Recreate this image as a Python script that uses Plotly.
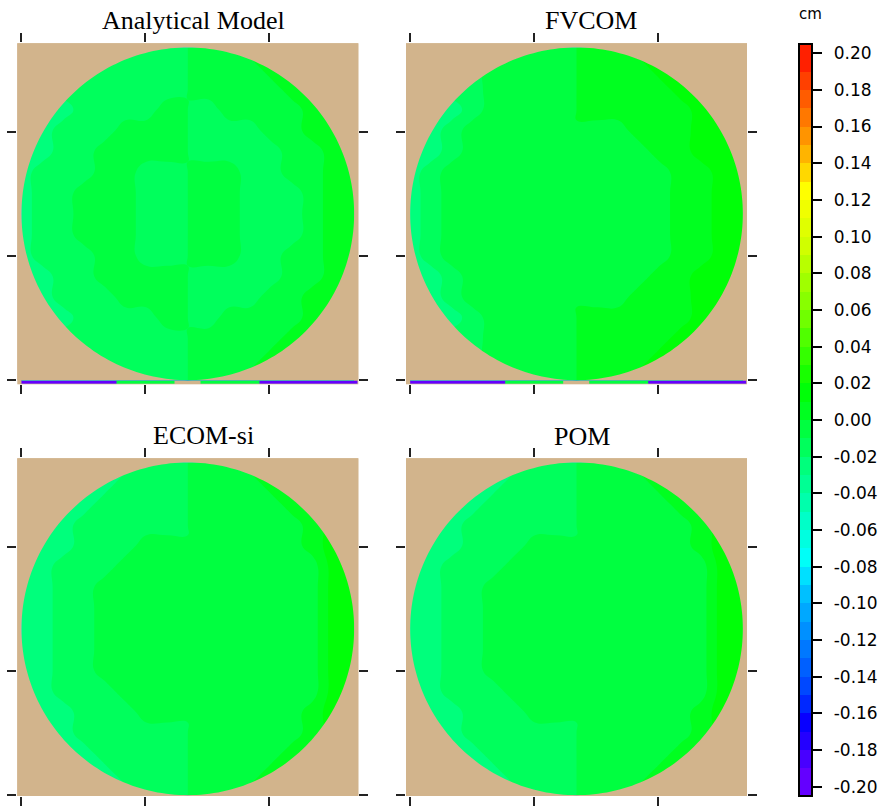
import numpy as np
import plotly.graph_objects as go

W, H = 885, 810

panel_titles = ["Analytical Model", "FVCOM", "ECOM-si", "POM"]

# grid nodes (basin radius = 1). The two columns at -0/+0 carry the branch-cut seen at x = 0
grid_x = [-1.0, -0.875, -0.75, -0.625, -0.5, -0.375, -0.25, -0.125, -0.0005,
          0.0005, 0.125, 0.25, 0.375, 0.5, 0.625, 0.75, 0.875, 1.0]
grid_y_top_down = [1.0, 0.875, 0.75, 0.625, 0.5, 0.375, 0.25, 0.125, 0.0,
                   -0.125, -0.25, -0.375, -0.5, -0.625, -0.75, -0.875, -1.0]

# surface elevation, units of 0.001 cm, rows from top (y=+1) to bottom (y=-1)
analytical_elev = [
    [-15, -15, -15, -15, -15, -15, -15, -15, -15, -5, -5, -5, 5, 5, 5, 5, 5, 5],
    [-15, -15, -15, -15, -15, -15, -15, -15, -15, -5, -5, -5, -5, 5, 5, 5, 5, 5],
    [-15, -15, -15, -15, -15, -15, -15, -15, -15, -5, -5, -5, -5, -5, 5, 5, 5, 5],
    [-25, -25, -25, -15, -15, -15, -15, -5, -5, -15, -15, -5, -5, -5, -5, 5, 5, 5],
    [-25, -25, -15, -15, -15, -5, -5, -5, -5, -15, -15, -15, -15, -5, -5, 5, 5, 5],
    [-25, -25, -15, -15, -5, -5, -5, -5, -5, -15, -15, -15, -15, -15, -5, -5, 5, 5],
    [-25, -15, -15, -15, -5, -5, -15, -15, -15, -5, -5, -5, -15, -15, -5, -5, 5, 5],
    [-25, -15, -15, -5, -5, -5, -15, -15, -15, -5, -5, -5, -15, -15, -15, -5, 5, 5],
    [-25, -15, -15, -5, -5, -5, -15, -15, -15, -5, -5, -5, -15, -15, -15, -5, 5, 5],
    [-25, -15, -15, -5, -5, -5, -15, -15, -15, -5, -5, -5, -15, -15, -15, -5, 5, 5],
    [-25, -15, -15, -15, -5, -5, -15, -15, -15, -5, -5, -5, -15, -15, -5, -5, 5, 5],
    [-25, -25, -15, -15, -5, -5, -5, -5, -5, -15, -15, -15, -15, -15, -5, -5, 5, 5],
    [-25, -25, -15, -15, -15, -5, -5, -5, -5, -15, -15, -15, -15, -5, -5, 5, 5, 5],
    [-25, -25, -25, -15, -15, -15, -15, -5, -5, -15, -15, -5, -5, -5, -5, 5, 5, 5],
    [-15, -15, -15, -15, -15, -15, -15, -15, -15, -5, -5, -5, -5, -5, 5, 5, 5, 5],
    [-15, -15, -15, -15, -15, -15, -15, -15, -15, -5, -5, -5, -5, 5, 5, 5, 5, 5],
    [-15, -15, -15, -15, -15, -15, -15, -15, -15, -5, -5, -5, 5, 5, 5, 5, 5, 5],
]

fvcom_elev = [
    [-15, -15, -15, -15, -15, -5, -5, -5, -5, 5, 5, 5, 15, 15, 15, 15, 15, 15],
    [-15, -15, -15, -15, -5, -5, -5, -5, -5, 5, 5, 5, 5, 15, 15, 15, 15, 15],
    [-15, -15, -15, -15, -5, -5, -5, -5, -5, 5, 5, 5, 5, 5, 15, 15, 15, 15],
    [-25, -25, -25, -15, -5, -5, -5, -5, -5, 5, 5, 5, 5, 5, 5, 15, 15, 15],
    [-25, -25, -15, -5, -5, -5, -5, -5, -5, -5, -5, -5, 5, 5, 5, 15, 15, 15],
    [-25, -25, -15, -5, -5, -5, -5, -5, -5, -5, -5, -5, -5, 5, 5, 15, 15, 15],
    [-25, -15, -5, -5, -5, -5, -5, -5, -5, -5, -5, -5, -5, -5, 5, 5, 15, 15],
    [-25, -15, -5, -5, -5, -5, -5, -5, -5, -5, -5, -5, -5, -5, 5, 5, 15, 15],
    [-25, -15, -5, -5, -5, -5, -5, -5, -5, -5, -5, -5, -5, -5, 5, 5, 15, 15],
    [-25, -15, -5, -5, -5, -5, -5, -5, -5, -5, -5, -5, -5, -5, 5, 5, 15, 15],
    [-25, -15, -5, -5, -5, -5, -5, -5, -5, -5, -5, -5, -5, -5, 5, 5, 15, 15],
    [-25, -25, -15, -5, -5, -5, -5, -5, -5, -5, -5, -5, -5, 5, 5, 15, 15, 15],
    [-25, -25, -15, -5, -5, -5, -5, -5, -5, -5, -5, -5, 5, 5, 5, 15, 15, 15],
    [-25, -25, -25, -15, -5, -5, -5, -5, -5, 5, 5, 5, 5, 5, 5, 15, 15, 15],
    [-15, -15, -15, -15, -5, -5, -5, -5, -5, 5, 5, 5, 5, 5, 15, 15, 15, 15],
    [-15, -15, -15, -15, -5, -5, -5, -5, -5, 5, 5, 5, 5, 15, 15, 15, 15, 15],
    [-15, -15, -15, -15, -15, -5, -5, -5, -5, 5, 5, 5, 15, 15, 15, 15, 15, 15],
]

ecomsi_elev = [
    [-25, -25, -25, -25, -25, -25, -15, -15, -15, -5, -5, -5, 5, 5, 5, 15, 15, 15],
    [-25, -25, -25, -25, -25, -15, -15, -15, -15, -5, -5, -5, -5, 5, 5, 15, 15, 15],
    [-25, -25, -25, -25, -15, -15, -15, -15, -15, -5, -5, -5, -5, -5, 5, 15, 15, 15],
    [-25, -25, -25, -15, -15, -15, -15, -15, -15, -5, -5, -5, -5, -5, -5, 5, 15, 15],
    [-25, -25, -25, -15, -15, -15, -5, -5, -5, -5, -5, -5, -5, -5, -5, 5, 15, 15],
    [-25, -25, -15, -15, -15, -5, -5, -5, -5, -5, -5, -5, -5, -5, -5, -5, 15, 15],
    [-25, -25, -15, -15, -5, -5, -5, -5, -5, -5, -5, -5, -5, -5, -5, -5, 15, 15],
    [-25, -25, -15, -15, -5, -5, -5, -5, -5, -5, -5, -5, -5, -5, -5, -5, 15, 15],
    [-25, -25, -15, -15, -5, -5, -5, -5, -5, -5, -5, -5, -5, -5, -5, -5, 15, 15],
    [-25, -25, -15, -15, -5, -5, -5, -5, -5, -5, -5, -5, -5, -5, -5, -5, 15, 15],
    [-25, -25, -15, -15, -5, -5, -5, -5, -5, -5, -5, -5, -5, -5, -5, -5, 15, 15],
    [-25, -25, -15, -15, -15, -5, -5, -5, -5, -5, -5, -5, -5, -5, -5, -5, 15, 15],
    [-25, -25, -25, -15, -15, -15, -5, -5, -5, -5, -5, -5, -5, -5, -5, 5, 15, 15],
    [-25, -25, -25, -15, -15, -15, -15, -15, -15, -5, -5, -5, -5, -5, -5, 5, 15, 15],
    [-25, -25, -25, -25, -15, -15, -15, -15, -15, -5, -5, -5, -5, -5, 5, 15, 15, 15],
    [-25, -25, -25, -25, -25, -15, -15, -15, -15, -5, -5, -5, -5, 5, 5, 15, 15, 15],
    [-25, -25, -25, -25, -25, -25, -15, -15, -15, -5, -5, -5, 5, 5, 5, 15, 15, 15],
]

pom_elev = [
    [-25, -25, -25, -25, -25, -25, -15, -15, -15, -5, -5, -5, 5, 5, 5, 15, 15, 15],
    [-25, -25, -25, -25, -25, -15, -15, -15, -15, -5, -5, -5, -5, 5, 5, 15, 15, 15],
    [-25, -25, -25, -25, -15, -15, -15, -15, -15, -5, -5, -5, -5, -5, 5, 15, 15, 15],
    [-25, -25, -25, -15, -15, -15, -15, -15, -15, -5, -5, -5, -5, -5, -5, 5, 15, 15],
    [-25, -25, -25, -15, -15, -15, -5, -5, -5, -5, -5, -5, -5, -5, -5, 5, 15, 15],
    [-25, -25, -15, -15, -15, -5, -5, -5, -5, -5, -5, -5, -5, -5, -5, -5, 15, 15],
    [-25, -25, -15, -15, -5, -5, -5, -5, -5, -5, -5, -5, -5, -5, -5, -5, 15, 15],
    [-25, -25, -15, -15, -5, -5, -5, -5, -5, -5, -5, -5, -5, -5, -5, -5, 15, 15],
    [-25, -25, -15, -15, -5, -5, -5, -5, -5, -5, -5, -5, -5, -5, -5, -5, 15, 15],
    [-25, -25, -15, -15, -5, -5, -5, -5, -5, -5, -5, -5, -5, -5, -5, -5, 15, 15],
    [-25, -25, -15, -15, -5, -5, -5, -5, -5, -5, -5, -5, -5, -5, -5, -5, 15, 15],
    [-25, -25, -15, -15, -15, -5, -5, -5, -5, -5, -5, -5, -5, -5, -5, -5, 15, 15],
    [-25, -25, -25, -15, -15, -15, -5, -5, -5, -5, -5, -5, -5, -5, -5, 5, 15, 15],
    [-25, -25, -25, -15, -15, -15, -15, -15, -15, -5, -5, -5, -5, -5, -5, 5, 15, 15],
    [-25, -25, -25, -25, -15, -15, -15, -15, -15, -5, -5, -5, -5, -5, 5, 15, 15, 15],
    [-25, -25, -25, -25, -25, -15, -15, -15, -15, -5, -5, -5, -5, 5, 5, 15, 15, 15],
    [-25, -25, -25, -25, -25, -25, -15, -15, -15, -5, -5, -5, 5, 5, 5, 15, 15, 15],
]

# thin bottom row present in the Analytical and FVCOM panels (x edges, values in 0.001 cm)
strip_x_edges = [-1.0, -0.43, -0.08, 0.075, 0.43, 1.02]
strip_elev = [-195, -5, None, -5, -195]

# colour bar
level_start, level_end, level_step = -0.20, 0.20, 0.01
cbar_tickvals = [-0.20, -0.18, -0.16, -0.14, -0.12, -0.10, -0.08, -0.06, -0.04, -0.02,
                 0.00, 0.02, 0.04, 0.06, 0.08, 0.10, 0.12, 0.14, 0.16, 0.18, 0.20]
cbar_ticktext = ["-0.20", "-0.18", "-0.16", "-0.14", "-0.12", "-0.10", "-0.08", "-0.06",
                 "-0.04", "-0.02", "0.00", "0.02", "0.04", "0.06", "0.08", "0.10", "0.12",
                 "0.14", "0.16", "0.18", "0.20"]

# one colour per 0.01 cm band, from -0.20 (bottom) to 0.20 (top)
band_colors = [
    "#6400ff", "#4800ff", "#2400ff", "#0800ff", "#0028ff", "#0048ff", "#0060ff", "#0078ff",
    "#0090ff", "#00a8ff", "#00c0ff", "#00e0ff", "#00fff8", "#00ffe0", "#00ffc8", "#00ffac",
    "#00ff94", "#00ff7c", "#00ff5c", "#00ff40", "#00ff20", "#00ff08", "#18ff00", "#34ff00",
    "#50ff00", "#70ff00", "#88ff00", "#a0ff00", "#b8ff00", "#d0ff00", "#e0ff00", "#f0ff00",
    "#ffff00", "#ffd800", "#ffb400", "#ff9400", "#ff7800", "#ff5c00", "#ff4000", "#ff2000",
]
TAN = "#d2b48c"

nlev = int(round((level_end - level_start) / level_step)) + 1  # 41 levels
colorscale = [[0.0, band_colors[0]]]
for k, c in enumerate(band_colors):
    colorscale.append([(k + 1) / nlev, c])
colorscale.append([1.0, band_colors[-1]])
zlo = level_start - level_step / 2
zhi = level_end + level_step / 2

# panel placement in pixels (left, right, top, bottom)
panel_px = [
    (17.3, 358.3, 43.3, 384.3),
    (406.0, 747.0, 43.3, 384.3),
    (17.3, 358.3, 458.3, 796.0),
    (406.0, 747.0, 458.3, 796.0),
]
panel_yrange = [[-1.025, 1.025], [-1.025, 1.025], [-1.005, 1.025], [-1.005, 1.025]]
mask_bottom = [-1.0, -1.0, -1.01, -1.01]
title_px = [(193.5, 21), (591, 21), (203.5, 435), (582, 436)]

fields = [analytical_elev, fvcom_elev, ecomsi_elev, pom_elev]
grid_y = grid_y_top_down[::-1]

fig = go.Figure()
layout_axes = {}
shapes = []
annotations = []

theta = np.linspace(0, 2 * np.pi, 241)
circ = " ".join(f"L {np.cos(t):.5f},{np.sin(t):.5f}" for t in theta[1:])

for i, (field, title) in enumerate(zip(fields, panel_titles)):
    n = "" if i == 0 else str(i + 1)
    xa, ya = "x" + n, "y" + n
    z = (np.array(field[::-1], dtype=float) / 1000.0)
    fig.add_trace(go.Contour(
        x=grid_x, y=grid_y, z=z, xaxis=xa, yaxis=ya,
        autocontour=False,
        contours=dict(start=level_start, end=level_end, size=level_step,
                      coloring="fill", showlines=False),
        line=dict(width=0, smoothing=1.3),
        colorscale=colorscale, zmin=zlo, zmax=zhi,
        showscale=(i == 0),
        hoverinfo="skip",
        colorbar=dict(
            thickness=13, outlinewidth=2, outlinecolor="black",
            lenmode="pixels", len=752, y=1 - 420 / H, yanchor="middle",
            x=799 / W, xanchor="left", xpad=0, ypad=0,
            tickmode="array", tickvals=cbar_tickvals,
            ticktext=["\u00a0\u2009" + s for s in cbar_ticktext],
            ticks="outside", ticklen=9, tickwidth=1.5, tickcolor="black",
            tickfont=dict(family="DejaVu Sans", size=17, color="black"),
        ),
    ))
    if i < 2:
        fig.add_trace(go.Heatmap(
            x=strip_x_edges, y=[-1.024, -1.003],
            z=[[None if v is None else v / 1000.0 for v in strip_elev]],
            xaxis=xa, yaxis=ya, colorscale=colorscale, zmin=zlo, zmax=zhi,
            showscale=False, hoverinfo="skip",
        ))
    l, r, t, b = panel_px[i]
    common = dict(showgrid=False, zeroline=False, showticklabels=False, ticks="outside",
                  ticklen=9, tickwidth=1.5, tickcolor="#222", tick0=-1.0, dtick=0.745,
                  mirror="ticks", showline=False, fixedrange=True)
    layout_axes["xaxis" + n] = dict(common, domain=[l / W, r / W], range=[-1.025, 1.025], anchor=ya)
    layout_axes["yaxis" + n] = dict(common, domain=[1 - b / H, 1 - t / H], range=panel_yrange[i], anchor=xa)
    mb = mask_bottom[i]
    mask_path = (f"M -1.03,{mb} L 1.03,{mb} L 1.03,1.03 L -1.03,1.03 Z "
                 f"M 1,0 {circ} Z")
    shapes.append(dict(type="path", path=mask_path, xref=xa, yref=ya, fillcolor=TAN,
                       line=dict(width=0), layer="above", fillrule="evenodd"))
    tx, ty = title_px[i]
    annotations.append(dict(text=title, x=tx / W, y=1 - ty / H, xref="paper", yref="paper",
                            xanchor="center", yanchor="middle", showarrow=False,
                            font=dict(family="Liberation Serif", size=26, color="black")))

annotations.append(dict(text="cm", x=810 / W, y=1 - 14 / H, xref="paper", yref="paper",
                        xanchor="center", yanchor="middle", showarrow=False,
                        font=dict(family="DejaVu Sans", size=15, color="black")))

fig.update_layout(
    width=W, height=H, margin=dict(l=0, r=0, t=0, b=0),
    paper_bgcolor="white", plot_bgcolor=TAN, showlegend=False,
    shapes=shapes, annotations=annotations, **layout_axes,
)

fig.write_html("out.html")
